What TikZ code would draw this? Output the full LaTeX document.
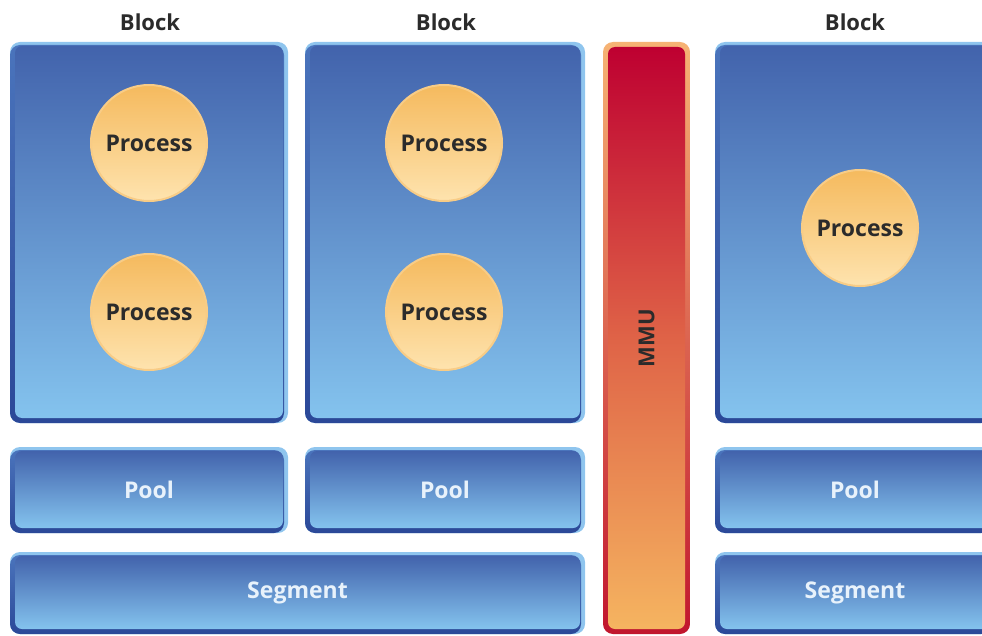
\documentclass[tikz,border=0pt]{standalone}
\usepackage{fontspec}
\setmainfont{Open Sans}
\definecolor{rimlight}{HTML}{8FC5EE}
\definecolor{rimdarktop}{HTML}{4A74BC}
\definecolor{rimdark}{HTML}{2B4898}
\definecolor{innertop}{HTML}{4263AC}
\definecolor{innerbot}{HTML}{84C3EE}
\definecolor{labeldark}{HTML}{2B2B2B}
\definecolor{labellight}{HTML}{E8F2FB}
\definecolor{procrim}{HTML}{F8CC86}
\definecolor{proctop}{HTML}{F5BA5E}
\definecolor{procbot}{HTML}{FEE3AE}
\definecolor{mmurimtop}{HTML}{F6B374}
\definecolor{mmurimbot}{HTML}{C1162E}
\definecolor{mmutop}{HTML}{BE0031}
\definecolor{mmumid}{HTML}{DF6347}
\definecolor{mmubot}{HTML}{F5B460}
\tikzset{
  rimlit/.style={rounded corners=10pt, fill=rimlight},
  rimshade/.style={rounded corners=10pt, top color=rimdarktop, bottom color=rimdark},
  innerblue/.style={rounded corners=7pt, top color=innertop, bottom color=innerbot},
  heading/.style={font=\bfseries\fontsize{22}{26}\selectfont, text=labeldark, inner sep=0pt},
  boxtext/.style={font=\bfseries\fontsize{23}{27}\selectfont, text=labellight, inner sep=0pt},
  proc/.style={circle, minimum size=116pt, inner sep=0pt, draw=procrim, line width=2pt,
    top color=proctop, bottom color=procbot,
    font=\bfseries\fontsize{23}{27}\selectfont, text=labeldark},
}
% framed blue panel: x1, y1, x2, y2, node name, label
% light rim on top and right, dark rim on left and bottom
\newcommand\bluepanel[6]{%
  \path[rimlit] (#1,#2) rectangle (#3,#4);
  \path[rimshade] (#1,#2+3) rectangle (#3-4,#4);
  \path[innerblue] (#1+5,#2+4) rectangle (#3-5,#4-5);
  \node[boxtext] (#5) at ({(#1+#3)/2},{(#2+#4)/2}) {#6};
}
\begin{document}
\begin{tikzpicture}[x=1pt,y=-1pt]
\useasboundingbox (0,0) rectangle (982,636);
\clip (0,0) rectangle (982,636);

% column headings
\node[heading] (h1) at (150,22) {Block};
\node[heading] (h2) at (446,22) {Block};
\node[heading] (h3) at (855,22) {Block};

% blocks
\bluepanel{10}{42}{288}{423}{b1}{}
\bluepanel{305}{42}{585}{423}{b2}{}
\bluepanel{715}{42}{995}{423}{b3}{}

% pools
\bluepanel{10}{447}{288}{533}{pool1}{Pool}
\bluepanel{305}{447}{585}{533}{pool2}{Pool}
\bluepanel{715}{447}{995}{533}{pool3}{Pool}

% segments
\bluepanel{10}{552}{585}{634}{seg1}{Segment}
\bluepanel{715}{552}{995}{634}{seg2}{Segment}

% processes
\node[proc] (p1) at (149,143) {Process};
\node[proc] (p2) at (149,312) {Process};
\node[proc] (p3) at (444,143) {Process};
\node[proc] (p4) at (444,312) {Process};
\node[proc] (p5) at (860,228) {Process};

% memory management unit
\path[rounded corners=10pt, top color=mmurimtop, bottom color=mmurimbot] (603,42) rectangle (690,634);
\path[rounded corners=7pt, top color=mmutop, bottom color=mmubot, middle color=mmumid] (608,47) rectangle (685,629);
\node[heading, rotate=90] (mmu) at (646.5,338) {MMU};
\end{tikzpicture}
\end{document}
